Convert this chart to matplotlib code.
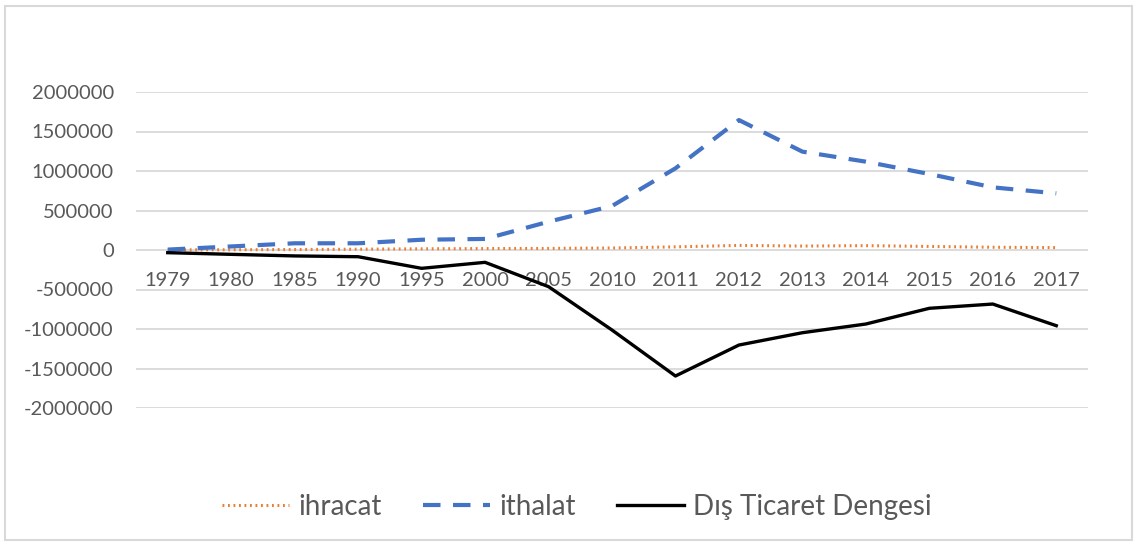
import matplotlib
matplotlib.use("Agg")
import matplotlib.pyplot as plt
from matplotlib.patches import Rectangle

years = ["1979", "1980", "1985", "1990", "1995", "2000", "2005", "2010",
         "2011", "2012", "2013", "2014", "2015", "2016", "2017"]
ihracat = [2000, 3000, 6000, 10000, 15000, 18000, 20000, 25000,
           40000, 58000, 50000, 55000, 45000, 35000, 30000]
ithalat = [5000, 45000, 85000, 85000, 130000, 140000, 358000, 557000,
           1034000, 1645000, 1245000, 1118000, 962000, 793000, 717000]
denge = [-34000, -55000, -75000, -85000, -232000, -156000, -464000, -1013000,
         -1595000, -1203000, -1047000, -937000, -738000, -684000, -958000]
yticks = [2000000, 1500000, 1000000, 500000, 0, -500000, -1000000, -1500000, -2000000]

plt.rcParams['font.family'] = ['Lato', 'DejaVu Sans']

W, H = 1138, 546
fig = plt.figure(figsize=(W / 100, H / 100), dpi=100)
ax = fig.add_axes([136 / W, (H - 408) / H, (1088 - 136) / W, (408 - 92) / H])

x = list(range(len(years)))
ax.plot(x, ihracat, color="#ED7D31", lw=2.2, linestyle=(0, (0.6, 1.2)),
        dash_capstyle="butt", label="ihracat", zorder=3)
ax.plot(x, ithalat, color="#4472C4", lw=3.0, linestyle=(0, (4.2, 3.0)),
        label="ithalat", zorder=3)
ax.plot(x, denge, color="black", lw=2.4, label="Dış Ticaret Dengesi", zorder=4)

ax.set_xlim(-0.5, len(years) - 0.5)
ax.set_ylim(-2000000, 2000000)
ax.set_yticks(yticks)
ax.set_yticklabels([str(v) for v in yticks])
ax.set_xticks(x)
ax.set_xticklabels(years)

ax.grid(axis='y', color="#d9d9d9", lw=1.3)
ax.set_axisbelow(True)
for s in ['top', 'right', 'left']:
    ax.spines[s].set_visible(False)
ax.spines['bottom'].set_position(('data', 0))
ax.spines['bottom'].set_visible(False)
ax.tick_params(axis='x', length=0, pad=16, labelsize=14.5, labelcolor="#595959")
ax.tick_params(axis='y', length=0, pad=16, labelsize=14.5, labelcolor="#595959")

leg = fig.legend(loc='center', bbox_to_anchor=(577 / W, (H - 507) / H), ncol=3,
                 frameon=False, fontsize=20, handlelength=2.4, handletextpad=0.33,
                 columnspacing=1.5, labelcolor="#595959")

fig.patches.append(Rectangle((5 / W, 6 / H), (1132 - 5) / W, (540 - 6) / H,
                             transform=fig.transFigure, fill=False,
                             edgecolor="#d9d9d9", lw=1.5))

fig.savefig("out.png", dpi=100, facecolor="white")
